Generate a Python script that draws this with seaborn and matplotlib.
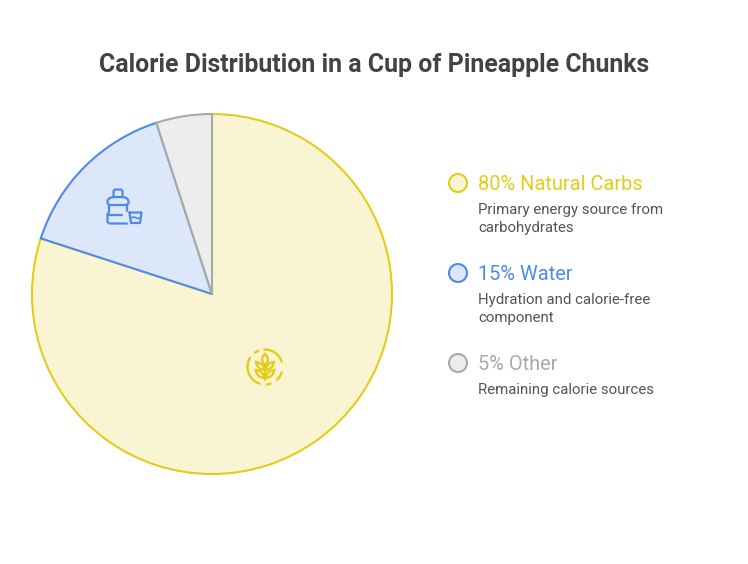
import matplotlib
matplotlib.use("Agg")
import matplotlib.pyplot as plt
import seaborn as sns
import numpy as np
from matplotlib.patches import Arc, Circle, PathPatch
from matplotlib.path import Path

TITLE = "Calorie Distribution in a Cup of Pineapple Chunks"
categories = ["Natural Carbs", "Water", "Other"]
values = [80, 15, 5]
descriptions = ["Primary energy source from\ncarbohydrates",
                "Hydration and calorie-free\ncomponent",
                "Remaining calorie sources"]
fills = ["#F9F4D1", "#DCE7F9", "#EDEDED"]
edges = ["#E4CC1A", "#4F8AE8", "#A9A9A9"]

sns.set_theme(style="white")
plt.rcParams["font.family"] = ["Roboto", "DejaVu Sans"]

W, H = 748, 564
fig = plt.figure(figsize=(W / 100, H / 100), dpi=100, facecolor="white")
ax = fig.add_axes([0, 0, 1, 1])


def Y(y):
    return H - y


wedges, _ = ax.pie(values, colors=fills, startangle=90, counterclock=False,
                   center=(212, Y(294)), radius=180,
                   wedgeprops=dict(linewidth=1.5))
for w, e in zip(wedges, edges):
    w.set_edgecolor(e)
ax.set_xlim(0, W)
ax.set_ylim(0, H)
ax.set_aspect("equal")
ax.axis("off")

ax.text(374, Y(65), TITLE, ha="center", va="center", fontsize=17.9,
        fontweight="bold", color="#434343")

# legend
rows = [183, 273, 363]
for cat, val, desc, f, e, y in zip(categories, values, descriptions, fills, edges, rows):
    ax.add_patch(Circle((458, Y(y)), 9, facecolor=f, edgecolor=e, linewidth=1.5))
    ax.text(478, Y(y + 1.5), f"{val}% {cat}", ha="left", va="center", fontsize=14.4, color=e)
    ax.text(478, Y(y + 20), desc, ha="left", va="top", fontsize=10.8,
            color="#555555", linespacing=1.34)


# water icon
blue = edges[1]
def poly(pts, color, lw=1.6):
    xs = [p[0] for p in pts]
    ys = [Y(p[1]) for p in pts]
    ax.plot(xs, ys, color=color, lw=lw, solid_capstyle="round",
            solid_joinstyle="round")

poly([(113.5, 197), (113.5, 191), (115, 189.5), (121, 189.5), (122.5, 191), (122.5, 197)], blue)
poly([(113.5, 197), (122.5, 197)], blue)
poly([(113.5, 197), (109.5, 198), (107.5, 200.5), (107.5, 203), (109, 205), (127, 205),
      (128.5, 203), (128.5, 200.5), (126.5, 198), (122.5, 197)], blue)
poly([(109, 205), (109, 212), (107.5, 214), (107.5, 222), (109.5, 223.5), (127, 223.5)], blue)
poly([(127, 205), (127, 211)], blue)
poly([(108, 214.5), (122, 214.5)], blue)
poly([(129.5, 212.5), (141.5, 212.5), (140, 223), (131, 223), (129.5, 212.5)], blue)
poly([(130.5, 218), (134, 217), (138, 218.5), (141, 217.5)], blue, lw=1.2)

# grain icon
yel = edges[0]
cx, cy, r = 265, 367, 17.5
for a1, a2 in [(15, 95), (110, 128), (145, 255), (272, 292), (310, 345)]:
    ax.add_patch(Arc((cx, Y(cy)), 2 * r, 2 * r, theta1=a1, theta2=a2,
                     color=yel, lw=1.7))


def leaf(x0, y0, x1, y1, bulge):
    mx, my = (x0 + x1) / 2, (y0 + y1) / 2
    dx, dy = x1 - x0, y1 - y0
    n = np.hypot(dx, dy)
    nx, ny = -dy / n * bulge, dx / n * bulge
    verts = [(x0, Y(y0)), (mx + nx, Y(my + ny)), (x1, Y(y1)),
             (mx - nx, Y(my - ny)), (x0, Y(y0))]
    codes = [Path.MOVETO, Path.CURVE3, Path.CURVE3, Path.CURVE3, Path.CURVE3]
    ax.add_patch(PathPatch(Path(verts, codes), facecolor="none", edgecolor=yel, lw=1.7))


leaf(265, 365, 265, 354, 6)
for yb, s in [(370, 8.5), (378, 9)]:
    leaf(264.5, yb, 264.5 - s, yb - 8, 4.5)
    leaf(265.5, yb, 265.5 + s, yb - 8, 4.5)
ax.plot([265, 265], [Y(364), Y(380)], color=yel, lw=1.7)

fig.savefig("out.png", dpi=100, facecolor="white")
